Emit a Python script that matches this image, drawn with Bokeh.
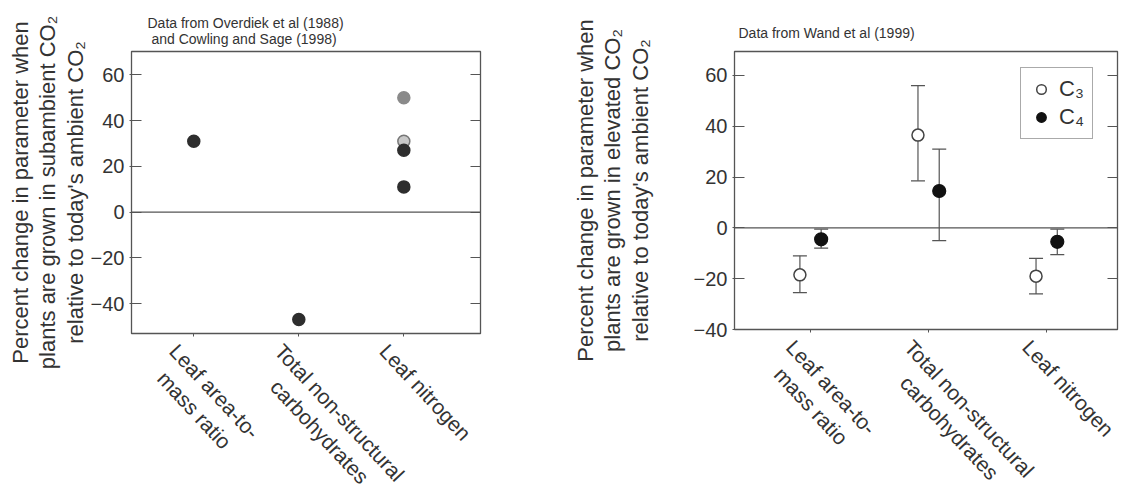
import math
from bokeh.plotting import figure
from bokeh.models import (ColumnDataSource, Span, Whisker, TeeHead, LinearAxis,
                          FixedTicker, Title, Legend, LegendItem, Range1d)
from bokeh.layouts import row
from bokeh.embed import file_html
from bokeh.resources import INLINE

# ---------------- data ----------------
NB = "\u00a0"
categories = ["Leaf area-to-\n" + NB * 2 + "mass ratio",
              "Total non-structural\n" + NB * 4 + "carbohydrates",
              "Leaf nitrogen"]
y_ticks_left = [-40, -20, 0, 20, 40, 60]
y_ticks_right = [-40, -20, 0, 20, 40, 60]

# Left panel: subambient CO2 (Overdiek et al 1988; Cowling and Sage 1998)
left_point_category = [0, 1, 2, 2, 2, 2]
left_values = [31, -47, 50, 31, 27, 11]
left_shade = ["dark", "dark", "mid", "light", "dark", "dark"]

# Right panel: elevated CO2 (Wand et al 1999)
c3_values = [-18.5, 36.5, -19]
c3_lower = [-25.5, 18.5, -26]
c3_upper = [-11, 56, -12]
c4_values = [-4.5, 14.5, -5.5]
c4_lower = [-8, -5, -10.5]
c4_upper = [-0.5, 31, -0.5]

# ---------------- style ----------------
FONT = "Liberation Sans"
TXT = "#333333"
FRAME = "#555555"
shade_fill = {"dark": "#2e2e2e", "mid": "#8a8a8a", "light": "#c8c8c8"}
shade_line = {"dark": "#2e2e2e", "mid": "#8a8a8a", "light": "#777777"}


def pad_label(c):
    # leading blank lines push the rotated label block down-left of its tick
    return ("\n\n\n" if "\n" in c else "\n\n") + c


def style(p, ticks, ylabel, label_standoff):
    p.outline_line_color = FRAME
    p.outline_line_width = 1.3
    p.xgrid.visible = False
    p.ygrid.visible = False
    ya = p.yaxis[0]
    ya.ticker = FixedTicker(ticks=ticks)
    ya.axis_line_color = FRAME
    ya.major_tick_line_color = FRAME
    ya.major_tick_in = 10
    ya.major_tick_out = 2
    ya.minor_tick_line_color = None
    ya.major_label_text_font = FONT
    ya.major_label_text_font_size = "20px"
    ya.major_label_text_color = TXT
    ya.major_label_standoff = 5
    ya.axis_label = ylabel
    ya.axis_label_text_font = FONT
    ya.axis_label_text_font_size = "22px"
    ya.axis_label_text_line_height = 1.1
    ya.axis_label_text_font_style = "normal"
    ya.axis_label_text_color = TXT
    ya.axis_label_standoff = label_standoff
    xa = p.xaxis[0]
    xa.ticker = FixedTicker(ticks=[1, 2, 3])
    xa.major_label_overrides = {i + 1: pad_label(c) for i, c in enumerate(categories)}
    xa.major_label_orientation = -0.82
    xa.axis_line_color = FRAME
    xa.major_tick_line_color = FRAME
    xa.major_tick_in = 0
    xa.major_tick_out = 3
    xa.minor_tick_line_color = None
    xa.major_label_text_font = FONT
    xa.major_label_text_font_size = "21px"
    xa.major_label_text_color = TXT
    xa.major_label_standoff = -8
    ra = LinearAxis(ticker=FixedTicker(ticks=ticks),
                    major_label_overrides={t: "" for t in ticks},
                    major_tick_in=10, major_tick_out=0, axis_line_color=None,
                    major_tick_line_color=FRAME, minor_tick_line_color=None,
                    major_label_standoff=0)
    p.add_layout(ra, "right")
    p.add_layout(Span(location=0, dimension="width", line_color=FRAME, line_width=1.3))


# ---------------- left panel ----------------
p1 = figure(frame_width=349, frame_height=282,
            x_range=Range1d(0.407, 3.73), y_range=Range1d(-53.1, 70.2),
            output_backend="svg", toolbar_location=None, title=None,
            min_border_left=131, min_border_right=85, min_border_top=51, min_border_bottom=10)
style(p1, y_ticks_left,
      "Percent change in parameter when\nplants are grown in subambient CO\u2082\nrelative to today's ambient CO\u2082", 0)

src1 = ColumnDataSource(dict(
    x=[c + 1 for c in left_point_category],
    y=left_values,
    fill=[shade_fill[s] for s in left_shade],
    line=[shade_line[s] for s in left_shade],
))
p1.scatter("x", "y", source=src1, size=12, fill_color="fill", line_color="line", line_width=1.5)
p1.add_layout(Title(text="Data from Overdiek et al (1988)\n" + NB + "and Cowling and Sage (1998)",
                    align="left", offset=16, standoff=10, text_font=FONT,
                    text_font_size="14px", text_font_style="normal", text_color=TXT), "above")

# ---------------- right panel ----------------
p2 = figure(frame_width=383, frame_height=278,
            x_range=Range1d(0.356, 3.60), y_range=Range1d(-40, 69.4),
            output_backend="svg", toolbar_location=None, title=None,
            min_border_left=169, min_border_right=60, min_border_top=49, min_border_bottom=10)
style(p2, y_ticks_right,
      "Percent change in parameter when\nplants are grown in elevated CO\u2082\nrelative to today's ambient CO\u2082", 38)

off = 0.09
src3 = ColumnDataSource(dict(x=[i + 1 - off for i in range(3)], y=c3_values, lo=c3_lower, hi=c3_upper))
src4 = ColumnDataSource(dict(x=[i + 1 + off for i in range(3)], y=c4_values, lo=c4_lower, hi=c4_upper))
for s in (src3, src4):
    w = Whisker(source=s, base="x", upper="hi", lower="lo", line_color=FRAME, line_width=1.2,
                upper_head=TeeHead(size=14, line_color=FRAME, line_width=1.2),
                lower_head=TeeHead(size=14, line_color=FRAME, line_width=1.2))
    w.level = "underlay"
    p2.add_layout(w)

r3 = p2.scatter("x", "y", source=src3, size=12, fill_color="white", line_color="#444444", line_width=1.5)
r4 = p2.scatter("x", "y", source=src4, size=13, fill_color="#111111", line_color="#111111", line_width=1.2)

legend = Legend(items=[LegendItem(label="C\u2083", renderers=[r3]),
                       LegendItem(label="C\u2084", renderers=[r4])],
                location=(286, 190), margin=0, padding=8, spacing=2,
                glyph_width=24, glyph_height=24, label_standoff=6,
                label_text_font=FONT, label_text_font_size="22px", label_text_color=TXT,
                border_line_color=FRAME, border_line_width=1.5)
p2.add_layout(legend)

p2.add_layout(Title(text="Data from Wand et al (1999)",
                    align="left", offset=4, standoff=22, text_font=FONT,
                    text_font_size="14px", text_font_style="normal", text_color=TXT), "above")

layout = row(p1, p2)
open("out.html", "w").write(file_html(layout, INLINE))
